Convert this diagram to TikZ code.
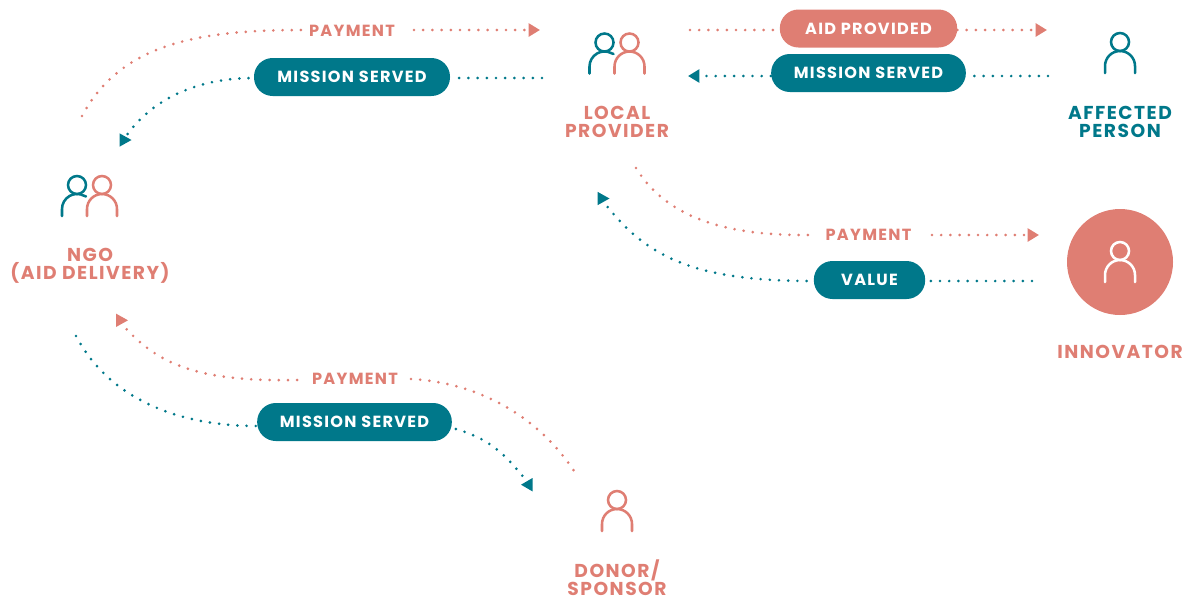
\documentclass[tikz,border=0pt]{standalone}
\usepackage{fontspec}
\setmainfont{Poppins}[LetterSpace=8]
\usetikzlibrary{arrows.meta}
\definecolor{pinkc}{HTML}{DF7E73}
\definecolor{tealc}{HTML}{00788A}
\tikzset{
  flow/.style={line width=2.2pt,line cap=round,dash pattern=on 0pt off 6.9pt},
  flowtip/.style={flow,-{Triangle[length=8.6pt,width=9.75pt]}},
  pill/.style={rounded corners=14pt,minimum height=28.5pt,inner sep=0pt,text=white,font=\fontsize{12.1}{12}\bfseries},
  lab/.style={font=\fontsize{12.1}{12}\bfseries,text=pinkc,inner sep=0pt},
  role/.style={font=\fontsize{14}{13.5}\bfseries,align=center,inner sep=0pt},
  icon/.style={line width=1.9pt,line cap=round},
}
\newcommand{\pilltext}[1]{\raisebox{-0.6pt}{#1}}
\newcommand{\personicon}[3]{%
  \draw[icon,#3] (#1,#2) circle (9);
  \draw[icon,#3] (#1-15,#2+31) -- (#1-15,#2+24) arc[start angle=180,end angle=360,radius=15] -- (#1+15,#2+31);
}
\newcommand{\backicon}[3]{%
  \draw[icon,#3] (#1,#2) circle (9);
  \draw[icon,#3] (#1-15,#2+31) -- (#1-15,#2+24) arc[start angle=180,end angle=285,radius=15] -- (#1+9,#2+11.5);
}
\newcommand{\tipright}[2]{\fill[#2] (#1) ++(0,-6.7) -- ++(12,6.7) -- ++(-12,6.7) -- cycle;}
\newcommand{\tipleft}[2]{\fill[#2] (#1) ++(0,-6.7) -- ++(-11.5,6.7) -- ++(11.5,6.7) -- cycle;}
\begin{document}
\begin{tikzpicture}[x=0.75pt,y=-0.75pt]
\useasboundingbox (0,0) rectangle (1187,597);
% people
\fill[pinkc] (1120,262) circle (53) node (innovcircle) {};
\personicon{1120}{251}{white}
\backicon{604.5}{42.5}{tealc}
\personicon{629.5}{42.5}{pinkc}
\backicon{77}{185}{tealc}
\personicon{102}{185}{pinkc}
\personicon{1120}{42}{tealc}
\personicon{617}{500}{pinkc}
% roles
\node[role,text=pinkc] (local) at (617,122) {LOCAL\\PROVIDER};
\node[role,text=tealc] (affected) at (1120,122) {AFFECTED\\PERSON};
\node[role,text=pinkc] (ngo) at (90,266) {NGO\\(AID DELIVERY)};
\node[role,text=pinkc] (innov) at (1120,352) {INNOVATOR};
\node[role,text=pinkc] (donor) at (617,578) {DONOR/\\SPONSOR};
% labels
\node[lab] (pay1) at (352,31) {PAYMENT};
\node[pill,fill=tealc,minimum width=147pt] (ms1) at (352,77) {\pilltext{MISSION SERVED}};
\node[pill,fill=pinkc,minimum width=133pt] (aid) at (868.5,28.5) {\pilltext{AID PROVIDED}};
\node[pill,fill=tealc,minimum width=146pt] (ms2) at (868.5,73) {\pilltext{MISSION SERVED}};
\node[lab] (pay2) at (868.5,235) {PAYMENT};
\node[pill,fill=tealc,minimum width=83.5pt] (val) at (869.5,280) {\pilltext{VALUE}};
\node[lab] (pay3) at (355,379) {PAYMENT};
\node[pill,fill=tealc,minimum width=146pt] (ms3) at (354.5,422) {\pilltext{MISSION SERVED}};
% free ends
\coordinate (a1) at (82,116);
\coordinate (a2) at (302,30);
\coordinate (a3) at (414,30);
\coordinate (a4) at (540,30);
\coordinate (b1) at (542,78);
\coordinate (b2) at (127.7,134);
\coordinate (b3) at (119.5,140);
\coordinate (c1) at (690,30);
\coordinate (c2) at (1047,30);
\coordinate (d1) at (1048,76);
\coordinate (d2) at (688,76);
\coordinate (e1) at (636,168);
\coordinate (e2) at (810,235);
\coordinate (e3) at (932,235);
\coordinate (e4) at (1039,235);
\coordinate (f1) at (1032,281);
\coordinate (f2) at (607.7,207);
\coordinate (f3) at (597.5,198.5);
\coordinate (g1) at (576,474);
\coordinate (g2) at (411,379);
\coordinate (g3) at (298,380);
\coordinate (g4) at (126.7,329.3);
\coordinate (g5) at (116,320.3);
\coordinate (h1) at (76,336);
\coordinate (h2) at (522.3,475.7);
\coordinate (h3) at (532.5,484.7);
% connectors
\draw[flow,pinkc] (a1) .. controls (120,45) and (195,30) .. (a2);
\draw[flowtip,pinkc] (a3) -- (a4);
\draw[flow,tealc] (b1) -- (ms1.east |- b1);
\draw[flow,tealc] (b2) .. controls (150,103) and (192,78) .. (ms1.west |- b1);
\tipright{b3}{tealc}
\draw[flow,pinkc] (c1) -- (aid.west |- c1);
\draw[flowtip,pinkc] (aid.east |- c2) -- (c2);
\draw[flow,tealc] (d1) -- (ms2.east |- d1);
\draw[flowtip,tealc] (ms2.west |- d2) -- (d2);
\draw[flow,pinkc] (e1) .. controls (665,215) and (720,236) .. (e2);
\draw[flowtip,pinkc] (e3) -- (e4);
\draw[flow,tealc] (f1) -- (val.east |- f1);
\draw[flow,tealc] (f2) .. controls (650,260) and (700,281) .. (val.west |- f1);
\tipright{f3}{tealc}
\draw[flow,pinkc] (g2) .. controls (470,382) and (535,410) .. (g1);
\draw[flow,pinkc] (g4) .. controls (160,365) and (200,382) .. (g3);
\tipright{g5}{pinkc}
\draw[flow,tealc] (h1) .. controls (110,400) and (180,426) .. (ms3.west |- 0,426);
\draw[flow,tealc] (h2) .. controls (505,455) and (490,438) .. (ms3.east |- 0,428);
\tipleft{h3}{tealc}
\end{tikzpicture}
\end{document}
